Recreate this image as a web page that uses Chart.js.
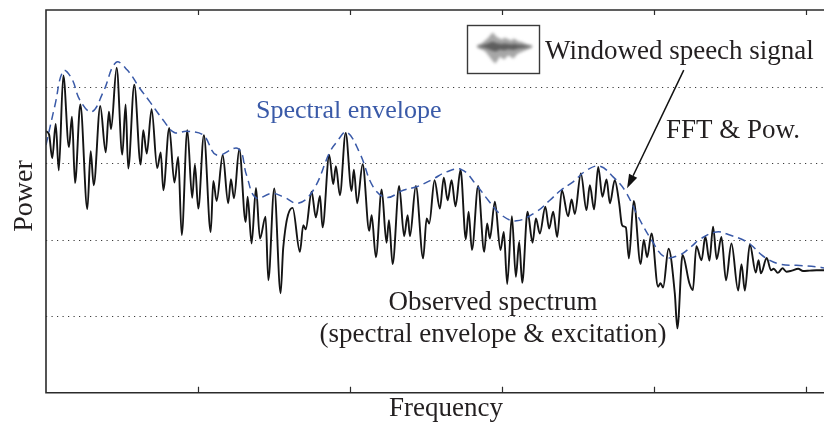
<!DOCTYPE html>
<html>
<head>
<meta charset="utf-8">
<script src="https://cdn.jsdelivr.net/npm/chart.js@4/dist/chart.umd.min.js"></script>
<style>
  html, body { margin: 0; padding: 0; background: #fff; }
  canvas { display: block; }
</style>
</head>
<body>
<canvas id="c" width="824" height="422"></canvas>
<script>
// FFT bin index of each traced sample of the observed power spectrum
const binIndex = [
  0, 2.0, 4.1, 6.4, 8.4, 11.4, 15.1, 17.1, 19.1, 22.6,
  27.2, 29.4, 31.4, 35.7, 39.3, 41.4, 42.8, 46.5, 50.2, 52.4,
  54.1, 58.1, 62.3, 64.0, 66.3, 69.5, 73.2, 75.5, 77.2, 81.1,
  84.5, 87.0, 89.3, 93.0, 96.2, 98.0, 100.2, 103.9, 108.4, 110.1,
  112.3, 116.3, 119.9, 121.7, 123.7, 127.2, 131.4, 132.7, 135.3, 138.2,
  140.8, 144.5, 146.3, 150.2, 154.4, 156.1, 162.3, 167.1, 169.3, 170.9,
  174.8, 177.6, 180.3, 182.0, 186.4, 189.0, 190.8, 193.4, 197.2, 201.1,
  202.6, 204.8, 208.4, 212.7, 214.3, 217.1, 220.9, 224.1, 225.7, 228.1,
  232.4, 235.7, 238.0, 239.5, 243.4, 248.2, 250.5, 252.2, 255.7, 259.2,
  261.8, 264.3, 266.9, 269.5, 272.8, 276.3, 278.1, 280.3, 284.4, 288.4,
  290.3, 292.1, 295.4, 299.1, 301.3, 303.5, 306.6, 309.2, 311.4, 313.4,
  316.9, 320.2, 322.4, 325.0, 328.6, 331.1, 333.8, 336.4, 339.5, 343.6,
  345.9, 348.0, 352.0, 355.7, 357.9, 360.7, 363.4, 366.2, 368.9, 371.1,
  374.3, 377.2, 378.8, 379.8, 381.6, 383.6, 386.8, 391.3, 393.4, 395.6,
  398.5, 402.8, 404.4, 406.1, 409.7, 413.8, 415.5, 418.9, 423.4, 425.7,
  428.0, 431.4, 433.9, 436.6, 439.0, 441.4, 444.5, 447.5, 451.1, 455.5,
  457.7, 459.9, 463.2, 467.1, 468.9, 470.5, 474.3, 477.1, 478.9, 481.6,
  484.7, 487.3, 490.8, 495.0, 498.2, 502.6, 507.0, 512
];

// observed power (dB) at those bins: envelope times harmonic excitation
const observedDb = [
  68.3, 67.5, 61.3, 70.2, 58.1, 82.9, 64.2, 72.1, 54.8, 75.3,
  48.0, 63.1, 54.2, 74.9, 62.8, 73.4, 68.9, 84.9, 62.2, 75.3,
  58.6, 80.5, 59.6, 68.6, 62.5, 74.1, 58.7, 62.8, 52.9, 69.2,
  54.9, 61.6, 41.2, 68.6, 50.9, 59.6, 48.1, 67.3, 42.0, 55.3,
  50.1, 62.1, 49.5, 55.8, 50.8, 63.6, 44.6, 51.2, 39.0, 53.5,
  40.3, 46.0, 29.4, 53.4, 26.0, 37.8, 48.3, 36.8, 43.8, 42.7,
  52.5, 45.8, 51.4, 43.2, 62.1, 54.5, 59.2, 51.6, 67.9, 52.7,
  58.3, 49.5, 59.7, 42.3, 46.4, 35.4, 53.1, 39.2, 45.1, 33.6,
  54.0, 40.9, 46.4, 40.9, 54.0, 35.1, 45.5, 44.2, 55.5, 48.1,
  56.2, 50.3, 55.5, 48.7, 58.3, 40.1, 47.3, 37.3, 54.0, 36.8,
  44.2, 40.3, 49.9, 37.3, 42.0, 28.4, 46.1, 30.3, 39.4, 28.7,
  47.3, 39.2, 45.5, 41.6, 48.6, 42.9, 47.3, 40.7, 52.9, 46.1,
  50.5, 46.7, 57.3, 47.7, 54.2, 47.9, 59.0, 51.2, 55.7, 49.5,
  55.5, 49.5, 44.2, 43.5, 43.2, 35.1, 50.1, 33.6, 39.9, 35.4,
  41.6, 27.7, 28.6, 27.5, 37.6, 26.0, 16.8, 36.0, 28.6, 26.8,
  38.3, 34.6, 40.8, 34.5, 43.4, 34.9, 40.7, 29.4, 39.0, 26.7,
  33.6, 26.7, 38.8, 31.4, 34.6, 31.2, 35.2, 32.0, 32.4, 31.3,
  32.5, 31.6, 31.9, 32.4, 31.8, 31.9, 32.0, 32.0
];

// smooth spectral envelope (dB) sampled at its own bins
const envelopeBin = [
  0, 5.9, 11.4, 16.9, 22.4, 30.1, 37.7, 46.1, 53.5, 61.8,
  68.4, 77.2, 84.4, 92.6, 103.5, 112.3, 126.5, 132.0, 138.2, 148.5,
  156.1, 166.0, 175.9, 186.8, 191.3, 197.8, 206.6, 215.3, 224.1, 235.1,
  243.9, 254.6, 263.6, 273.5, 283.4, 291.0, 299.8, 309.7, 322.8, 331.6,
  338.8, 346.9, 355.7, 364.5, 373.2, 380.9, 389.7, 398.5, 407.2, 417.1,
  425.0, 430.3, 441.2, 450.0, 462.0, 470.9, 476.3, 484.0, 493.9, 507.0,
  512
];
const envelopeDb = [
  64.7, 75.1, 84.1, 82.1, 76.4, 73.4, 78.6, 86.3, 84.3, 79.5,
  76.0, 71.2, 68.0, 68.3, 67.3, 62.1, 63.8, 56.8, 50.9, 52.1,
  51.2, 49.5, 52.9, 62.9, 65.5, 68.1, 62.5, 53.8, 51.0, 52.9,
  53.8, 55.8, 57.7, 58.3, 54.2, 50.3, 46.4, 44.9, 47.3, 50.3,
  52.9, 55.1, 58.1, 59.2, 56.4, 52.9, 46.0, 39.9, 35.5, 36.0,
  38.3, 40.1, 42.0, 41.2, 39.2, 36.0, 34.6, 33.5, 33.3, 32.9,
  32.6
];

// axis ticks (unlabelled) and dotted power grid levels
const freqTicks = [100, 200, 300, 400, 500];
const powerGrid = [20, 40, 60, 80];

// waveform thumbnail for the "Windowed speech signal" icon (upper / lower extent)
const iconUpper = [1, 2, 3, 5, 7, 9, 12, 14, 11, 9, 8, 7, 9, 8, 7, 6, 8, 7, 5, 5, 4, 3, 2, 1.5, 1];
const iconLower = [1, 2, 3, 4, 6, 9, 12, 15, 17, 14, 10, 12, 13, 10, 9, 11, 12, 9, 7, 6, 5, 4, 3, 2, 1];

// arrow from the speech signal to the spectrum (bin, dB)
const arrowFrom = { x: 419.7, y: 84.3 };
const arrowTo = { x: 382.4, y: 53.4 };

const SERIF = '"Liberation Serif", "Times New Roman", Times, serif';
const INK = '#231f20';
const BLUE = '#3a5aa8';

const frameAndLabels = {
  id: 'frameAndLabels',
  beforeDatasetsDraw(chart) {
    const { ctx, chartArea: a, scales: { y } } = chart;
    ctx.save();
    ctx.strokeStyle = '#3a3a3a';
    ctx.lineWidth = 1;
    ctx.setLineDash([1.2, 4.3]);
    powerGrid.forEach(v => {
      const py = Math.round(y.getPixelForValue(v)) + 0.5;
      ctx.beginPath();
      ctx.moveTo(a.left, py);
      ctx.lineTo(a.right, py);
      ctx.stroke();
    });
    ctx.restore();
  },
  afterDraw(chart) {
    const { ctx, chartArea: a, scales: { x, y } } = chart;
    ctx.save();

    // frame: left, top and bottom axis lines
    ctx.strokeStyle = '#2b2b2b';
    ctx.lineWidth = 1.6;
    ctx.beginPath();
    ctx.moveTo(a.right, a.top);
    ctx.lineTo(a.left, a.top);
    ctx.lineTo(a.left, a.bottom);
    ctx.lineTo(a.right, a.bottom);
    ctx.stroke();

    // inward tick marks on top and bottom axes
    ctx.lineWidth = 1.2;
    freqTicks.forEach(t => {
      const px = Math.round(x.getPixelForValue(t)) + 0.5;
      ctx.beginPath();
      ctx.moveTo(px, a.top);
      ctx.lineTo(px, a.top + 5);
      ctx.moveTo(px, a.bottom);
      ctx.lineTo(px, a.bottom - 6);
      ctx.stroke();
    });

    // axis titles
    ctx.fillStyle = INK;
    ctx.font = '27px ' + SERIF;
    ctx.textAlign = 'center';
    ctx.textBaseline = 'alphabetic';
    ctx.fillText('Frequency', 446, 416);

    ctx.save();
    ctx.translate(32, 196);
    ctx.rotate(-Math.PI / 2);
    ctx.font = '28px ' + SERIF;
    ctx.fillText('Power', 0, 0);
    ctx.restore();

    // annotations
    ctx.textAlign = 'left';
    ctx.fillStyle = BLUE;
    ctx.font = '26px ' + SERIF;
    ctx.fillText('Spectral envelope', 256, 118);

    ctx.fillStyle = INK;
    ctx.font = '27px ' + SERIF;
    ctx.fillText('Windowed speech signal', 545, 59);
    ctx.fillText('FFT & Pow.', 666, 138);
    ctx.textAlign = 'center';
    ctx.fillText('Observed spectrum', 493, 310);
    ctx.fillText('(spectral envelope & excitation)', 493, 342);

    // speech waveform icon
    const bx = 467.5, by = 25.5, bw = 72, bh = 48;
    ctx.fillStyle = '#ffffff';
    ctx.fillRect(bx, by, bw, bh);
    const cy = 46.5, x0 = 477, x1 = 532;
    const step = (x1 - x0) / (iconUpper.length - 1);
    ctx.save();
    ctx.beginPath();
    ctx.rect(bx, by, bw, bh);
    ctx.clip();
    ctx.filter = 'blur(1.4px)';
    ctx.fillStyle = 'rgba(130,130,130,0.7)';
    ctx.beginPath();
    ctx.moveTo(x0, cy);
    iconUpper.forEach((u, i) => ctx.lineTo(x0 + i * step, cy - u));
    for (let i = iconLower.length - 1; i >= 0; i--) ctx.lineTo(x0 + i * step, cy + iconLower[i]);
    ctx.closePath();
    ctx.fill();
    ctx.fillStyle = 'rgba(70,70,70,0.75)';
    ctx.beginPath();
    ctx.moveTo(x0 + 2, cy);
    iconUpper.forEach((u, i) => ctx.lineTo(x0 + i * step, cy - u * 0.35));
    for (let i = iconLower.length - 1; i >= 0; i--) ctx.lineTo(x0 + i * step, cy + iconLower[i] * 0.3);
    ctx.closePath();
    ctx.fill();
    ctx.restore();
    ctx.strokeStyle = '#3a3a3a';
    ctx.lineWidth = 1.4;
    ctx.strokeRect(bx, by, bw, bh);

    // arrow
    const sx = x.getPixelForValue(arrowFrom.x), sy = y.getPixelForValue(arrowFrom.y);
    const tx = x.getPixelForValue(arrowTo.x), ty = y.getPixelForValue(arrowTo.y);
    const ang = Math.atan2(ty - sy, tx - sx);
    const headLen = 14, headHalf = 4.5;
    const hx = tx - headLen * Math.cos(ang), hy = ty - headLen * Math.sin(ang);
    ctx.strokeStyle = '#111';
    ctx.lineWidth = 1.5;
    ctx.beginPath();
    ctx.moveTo(sx, sy);
    ctx.lineTo(hx, hy);
    ctx.stroke();
    ctx.fillStyle = '#111';
    ctx.beginPath();
    ctx.moveTo(tx, ty);
    ctx.lineTo(hx + headHalf * Math.sin(ang), hy - headHalf * Math.cos(ang));
    ctx.lineTo(hx - headHalf * Math.sin(ang), hy + headHalf * Math.cos(ang));
    ctx.closePath();
    ctx.fill();

    ctx.restore();
  }
};

new Chart(document.getElementById('c'), {
  type: 'line',
  data: {
    datasets: [
      {
        label: 'Spectral envelope',
        data: envelopeBin.map((b, i) => ({ x: b, y: envelopeDb[i] })),
        borderColor: BLUE,
        borderWidth: 1.5,
        borderDash: [8, 5],
        pointRadius: 0,
        tension: 0.4,
        fill: false
      },
      {
        label: 'Observed spectrum',
        data: binIndex.map((b, i) => ({ x: b, y: observedDb[i] })),
        borderColor: '#141414',
        borderWidth: 1.9,
        pointRadius: 0,
        cubicInterpolationMode: 'monotone',
        fill: false
      }
    ]
  },
  options: {
    responsive: false,
    animation: false,
    devicePixelRatio: 1,
    layout: { padding: { left: 46, top: 10, right: 0, bottom: 29.3 } },
    plugins: { legend: { display: false }, tooltip: { enabled: false }, title: { display: false } },
    scales: {
      x: { type: 'linear', min: 0, max: 512, display: false },
      y: { type: 'linear', min: 0, max: 100, display: false }
    }
  },
  plugins: [frameAndLabels]
});
</script>
</body>
</html>
